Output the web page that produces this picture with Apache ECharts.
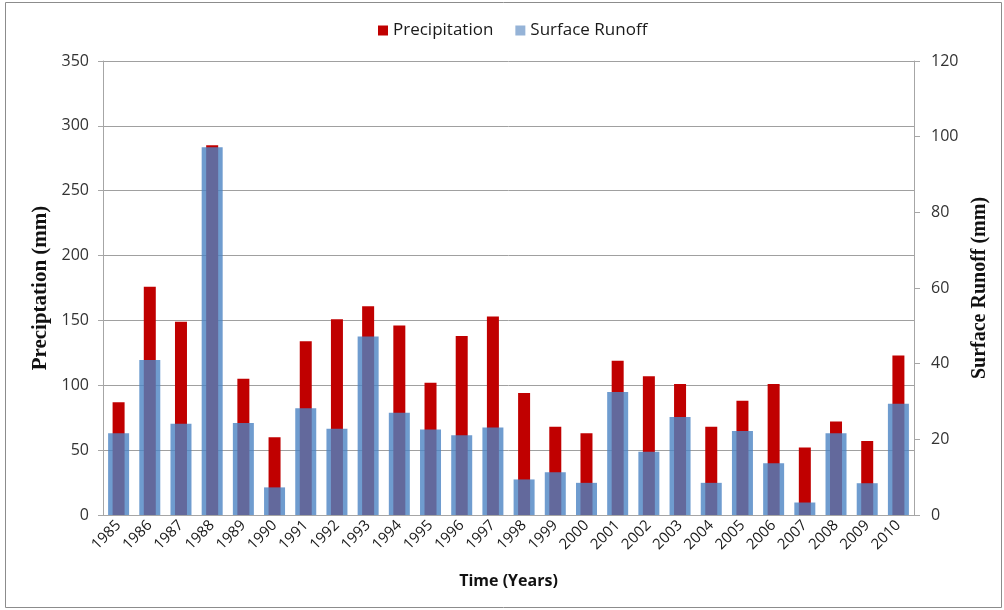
<!DOCTYPE html>
<html>
<head>
<meta charset="utf-8">
<script src="https://cdn.jsdelivr.net/npm/echarts@6/dist/echarts.min.js"></script>
<style>html,body{margin:0;padding:0;background:#fff}#c{width:1004px;height:610px}</style>
</head>
<body>
<div id="c"></div>
<script>
const years = ['1985','1986','1987','1988','1989','1990','1991','1992','1993','1994','1995','1996','1997','1998','1999','2000','2001','2002','2003','2004','2005','2006','2007','2008','2009','2010'];
const precipitation = [87,176,149,285,105,60,134,151,161,146,102,138,153,94,68,63,119,107,101,68,88,101,52,72,57,123];
const runoff = [21.6,41.0,24.1,97.2,24.3,7.3,28.2,22.8,47.2,27.0,22.6,21.1,23.1,9.4,11.3,8.5,32.5,16.7,25.9,8.5,22.2,13.7,3.3,21.6,8.4,29.4];
const leftTicks = {min:0, max:350, interval:50};
const rightTicks = {min:0, max:120, interval:20};

const font = '"Open Sans", sans-serif';
const axisGray = '#a6a6a6';
const chart = echarts.init(document.getElementById('c'));
chart.setOption({
  animation: false,
  backgroundColor: '#fff',
  graphic: [{type:'rect', shape:{x:5.5,y:2.5,width:996,height:605}, style:{fill:'none', stroke:'#8c8c8c', lineWidth:1}, silent:true}],
  legend: {
    top: 17, left: 373, itemWidth: 10, itemHeight: 10, itemGap: 22,
    textStyle: {fontFamily: font, fontSize: 17, color: '#1a1a1a'},
    data: [
      {name:'Precipitation', icon:'rect', itemStyle:{color:'#c00000'}},
      {name:'Surface Runoff', icon:'rect', itemStyle:{color:'#95b3d7'}}
    ]
  },
  grid: {left: 103, right: 90, top: 61, bottom: 95},
  xAxis: [
    {type:'category', data: years, boundaryGap: true,
     axisLine:{lineStyle:{color:axisGray}}, axisTick:{alignWithLabel:false, length:6, lineStyle:{color:axisGray}},
     axisLabel:{rotate:45, fontFamily:font, fontSize:15, color:'#1a1a1a', margin:8, interval:0},
     name:'Time (Years)', nameLocation:'middle', nameGap:58,
     nameTextStyle:{fontFamily:font, fontSize:16, fontWeight:'bold', color:'#111'}},
    {type:'category', data: years, show:false, boundaryGap:true}
  ],
  yAxis: [
    {type:'value', min:leftTicks.min, max:leftTicks.max, interval:leftTicks.interval, position:'left',
     axisLine:{show:true, lineStyle:{color:axisGray}}, axisTick:{show:true, length:5, lineStyle:{color:axisGray}},
     splitLine:{lineStyle:{color:'#a0a0a0', width:1}},
     axisLabel:{fontFamily:font, fontSize:16, color:'#333', margin:14},
     name:'Preciptation (mm)', nameLocation:'middle', nameGap:50, nameRotate:90,
     nameTextStyle:{fontFamily:'"Liberation Serif", serif', fontSize:21, fontWeight:'bold', color:'#111'}},
    {type:'value', min:rightTicks.min, max:rightTicks.max, interval:rightTicks.interval, position:'right',
     axisLine:{show:true, lineStyle:{color:axisGray}}, axisTick:{show:true, length:6, lineStyle:{color:axisGray}},
     splitLine:{show:false},
     axisLabel:{fontFamily:font, fontSize:16, color:'#333', margin:17},
     name:'Surface Runoff (mm)', nameLocation:'middle', nameGap:47, nameRotate:90,
     nameTextStyle:{fontFamily:'"Liberation Serif", serif', fontSize:20, fontWeight:'bold', color:'#111'}}
  ],
  series: [
    {name:'Precipitation', type:'bar', xAxisIndex:0, yAxisIndex:0, data:precipitation, barWidth:12,
     itemStyle:{color:'#c00000'}},
    {name:'Surface Runoff', type:'bar', xAxisIndex:1, yAxisIndex:1, data:runoff, barWidth:21,
     itemStyle:{color:'rgba(75,131,195,0.8)'}}
  ]
});
</script>
</body>
</html>
